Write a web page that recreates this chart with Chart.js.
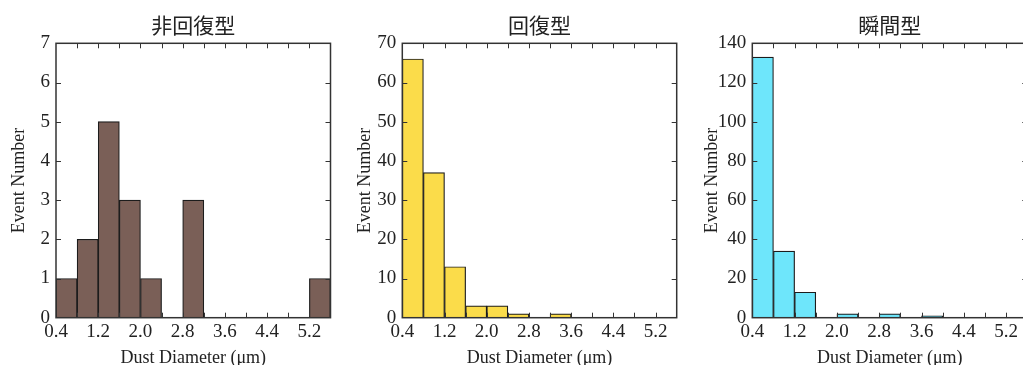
<!DOCTYPE html>
<html>
<head>
<meta charset="utf-8">
<title>Dust Diameter Histograms</title>
<script src="https://cdn.jsdelivr.net/npm/chart.js@4.4.0/dist/chart.umd.min.js"></script>
<style>
    html, body {
        margin: 0;
        padding: 0;
        width: 1023px;
        height: 365px;
        overflow: hidden;
        background: #fff;
    }
    .panel {
        position: absolute;
        top: 0;
        height: 365px;
    }
</style>
</head>
<body>
<div class="panel" style="left:0px"><canvas id="nonRecovery" width="340" height="365"></canvas></div>
<div class="panel" style="left:340px"><canvas id="recovery" width="340" height="365"></canvas></div>
<div class="panel" style="left:680px"><canvas id="instant" width="360" height="365"></canvas></div>

<script>
/* Dust diameter histograms by event type */

// Bin left edges (um), all bins 0.4 wide
const binStarts = [0.4, 0.8, 1.2, 1.6, 2.0, 2.4, 2.8, 3.2, 3.6, 4.0, 4.4, 4.8, 5.2];
const binWidth = 0.4;

// Event counts per bin
const nonRecoveryCounts = [1, 2, 5, 3, 1, 0, 3, 0, 0, 0, 0, 0, 1];
const recoveryCounts = [66, 37, 13, 3, 3, 1, 0, 1, 0, 0, 0, 0, 0];
const instantCounts = [133, 34, 13, 0, 2, 0, 2, 0, 1, 0, 0, 0, 0];

const panelTitles = ['非回復型', '回復型', '瞬間型'];
const xTitle = 'Dust Diameter (μm)';
const yTitle = 'Event Number';

(function() {
    'use strict';

    const SERIF = '"Liberation Serif", "Times New Roman", Times, serif';
    const TEXT_COLOR = '#222';

    // Inward tick marks on all four sides plus the closed frame
    const frameTicks = {
        id: 'frameTicks',
        afterDatasetsDraw: function(chart) {
            const ctx = chart.ctx;
            const area = chart.chartArea;
            const xs = chart.scales.x;
            const ys = chart.scales.y;
            const len = 5;

            ctx.save();
            ctx.strokeStyle = '#333';
            ctx.lineWidth = 1;
            ctx.beginPath();
            xs.ticks.forEach(function(t) {
                const px = Math.round(xs.getPixelForValue(t.value)) + 0.5;
                if (px <= area.left + 1 || px >= area.right - 1) return;
                ctx.moveTo(px, area.bottom);
                ctx.lineTo(px, area.bottom - len);
                ctx.moveTo(px, area.top);
                ctx.lineTo(px, area.top + len);
            });
            ys.ticks.forEach(function(t) {
                const py = Math.round(ys.getPixelForValue(t.value)) + 0.5;
                if (py <= area.top + 1 || py >= area.bottom - 1) return;
                ctx.moveTo(area.left, py);
                ctx.lineTo(area.left + len, py);
                ctx.moveTo(area.right, py);
                ctx.lineTo(area.right - len, py);
            });
            ctx.stroke();

            ctx.lineWidth = 1.5;
            ctx.strokeRect(area.left, area.top, area.right - area.left, area.bottom - area.top);
            ctx.restore();
        }
    };

    function buildPoints(counts) {
        return binStarts.map(function(start, i) {
            return { x: start + binWidth / 2, y: counts[i] };
        });
    }

    function makeHistogram(canvasId, cfg) {
        const ctx = document.getElementById(canvasId).getContext('2d');

        return new Chart(ctx, {
            type: 'bar',
            data: {
                datasets: [{
                    data: buildPoints(cfg.counts),
                    backgroundColor: cfg.color,
                    borderColor: '#1c1c1c',
                    borderWidth: 1.2,
                    borderSkipped: 'bottom',
                    barPercentage: 1.0,
                    categoryPercentage: 1.0
                }]
            },
            options: {
                responsive: false,
                animation: false,
                layout: {
                    padding: { right: cfg.padRight, left: 0, top: 0, bottom: 0 }
                },
                plugins: {
                    legend: { display: false },
                    tooltip: { enabled: false },
                    title: {
                        display: true,
                        text: cfg.title,
                        fullSize: false,
                        color: TEXT_COLOR,
                        font: { family: '"Noto Sans CJK JP", sans-serif', size: 21, weight: 'normal', lineHeight: 1.2 },
                        padding: { top: 12, bottom: 6.1 }
                    }
                },
                scales: {
                    x: {
                        type: 'linear',
                        min: 0.4,
                        max: 5.6,
                        offset: false,
                        grid: { display: false, drawTicks: false },
                        border: { display: false },
                        ticks: {
                            stepSize: 0.4,
                            autoSkip: false,
                            maxRotation: 0,
                            padding: 3,
                            color: TEXT_COLOR,
                            font: { family: SERIF, size: 19 },
                            callback: function(value) {
                                const tenths = Math.round(value * 10);
                                return (tenths % 8 === 4) ? (tenths / 10).toFixed(1) : '';
                            }
                        },
                        title: {
                            display: true,
                            text: xTitle,
                            color: TEXT_COLOR,
                            font: { family: SERIF, size: 18, lineHeight: 1.0 },
                            padding: { top: 0, bottom: -2 }
                        },
                        afterFit: function(scale) {
                            scale.height = 47.3;
                        }
                    },
                    y: {
                        min: 0,
                        max: cfg.yMax,
                        grid: { display: false, drawTicks: false },
                        border: { display: false },
                        ticks: {
                            stepSize: cfg.yStep,
                            padding: 6,
                            color: TEXT_COLOR,
                            font: { family: SERIF, size: 19 }
                        },
                        title: {
                            display: true,
                            text: yTitle,
                            color: TEXT_COLOR,
                            font: { family: SERIF, size: 18, lineHeight: 1.2 },
                            padding: { top: cfg.yTitleGap, bottom: 0 }
                        },
                        afterFit: function(scale) {
                            scale.width = cfg.axisWidth;
                        }
                    }
                }
            },
            plugins: [frameTicks]
        });
    }

    document.addEventListener('DOMContentLoaded', function() {
        makeHistogram('nonRecovery', {
            title: panelTitles[0],
            counts: nonRecoveryCounts,
            color: '#7a5f57',
            yMax: 7,
            yStep: 1,
            axisWidth: 56,
            padRight: 9.5,
            yTitleGap: 8
        });
        makeHistogram('recovery', {
            title: panelTitles[1],
            counts: recoveryCounts,
            color: '#fbdc4a',
            yMax: 70,
            yStep: 10,
            axisWidth: 62.3,
            padRight: 3.3,
            yTitleGap: 14
        });
        makeHistogram('instant', {
            title: panelTitles[2],
            counts: instantCounts,
            color: '#6ee6fb',
            yMax: 140,
            yStep: 20,
            axisWidth: 72.3,
            padRight: 12.7,
            yTitleGap: 21
        });
    });
})();
</script>
</body>
</html>
